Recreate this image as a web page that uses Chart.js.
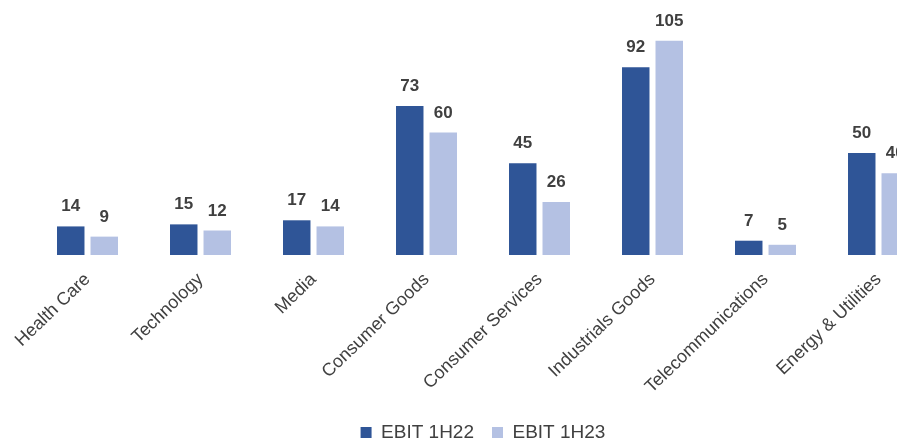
<!DOCTYPE html>
<html>
<head>
<meta charset="utf-8">
<script src="https://cdn.jsdelivr.net/npm/chart.js@4"></script>
<style>
  html, body { margin: 0; padding: 0; overflow: hidden; background: #fff; }
  #wrap { width: 962px; height: 452px; }
</style>
</head>
<body>
<div id="wrap"><canvas id="chart" width="962" height="452"></canvas></div>
<script>
// sectors on the x axis
const sectors = ['Health Care', 'Technology', 'Media', 'Consumer Goods', 'Consumer Services',
  'Industrials Goods', 'Telecommunications', 'Energy & Utilities']

// EBIT per half year
const ebit1H22 = [14, 15, 17, 73, 45, 92, 7, 50]
const ebit1H23 = [9, 12, 14, 60, 26, 105, 5, 40]

const seriesNames = ['EBIT 1H22', 'EBIT 1H23']

const FONT = '"Liberation Sans", Arial, sans-serif'

// value labels above each bar
const barLabels = {
  id: 'barLabels',
  afterDatasetsDraw(chart) {
    const ctx = chart.ctx
    ctx.save()
    ctx.font = 'bold 17px ' + FONT
    ctx.fillStyle = '#404040'
    ctx.textAlign = 'center'
    ctx.textBaseline = 'alphabetic'
    chart.data.datasets.forEach((ds, i) => {
      chart.getDatasetMeta(i).data.forEach((bar, j) => {
        ctx.fillText(ds.data[j], bar.x, bar.y - 15)
      })
    })
    ctx.restore()
  }
}

new Chart(document.getElementById('chart'), {
  type: 'bar',
  data: {
    labels: sectors,
    datasets: [
      { label: seriesNames[0], data: ebit1H22, backgroundColor: '#2F5597' },
      { label: seriesNames[1], data: ebit1H23, backgroundColor: '#B4C1E3' }
    ]
  },
  options: {
    animation: false,
    responsive: false,
    layout: { padding: { left: 31, right: 27, top: 10, bottom: 0 } },
    datasets: { bar: { categoryPercentage: 0.593, barPercentage: 0.82 } },
    plugins: {
      legend: {
        position: 'bottom',
        labels: {
          boxWidth: 11, boxHeight: 11, padding: 18,
          color: '#404040',
          font: { family: FONT, size: 19 }
        }
      },
      tooltip: { enabled: false }
    },
    scales: {
      y: { display: false, min: 0, max: 120 },
      x: {
        grid: { display: false },
        border: { display: false },
        afterFit(scale) { scale.height = 150 },
        ticks: {
          minRotation: 44, maxRotation: 44,
          color: '#404040',
          padding: 6,
          font: { family: FONT, size: 18 }
        }
      }
    }
  },
  plugins: [barLabels]
})
</script>
</body>
</html>
